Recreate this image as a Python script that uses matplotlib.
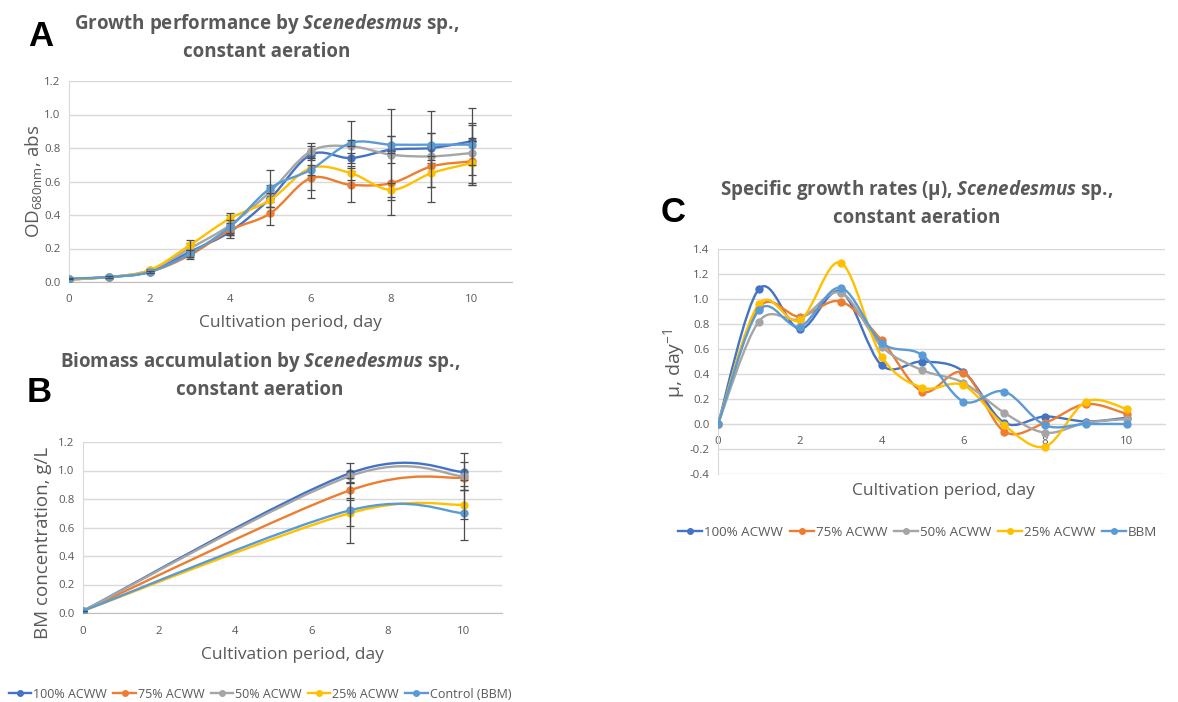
import numpy as np
import matplotlib
matplotlib.use("Agg")
import matplotlib.pyplot as plt
from matplotlib.path import Path
from matplotlib.patches import PathPatch
from matplotlib.lines import Line2D

plt.rcParams['font.family'] = ['Open Sans', 'DejaVu Sans']
plt.rcParams['mathtext.fontset'] = 'custom'
plt.rcParams['mathtext.rm'] = 'Open Sans'
plt.rcParams['mathtext.it'] = 'Open Sans:italic:bold'
plt.rcParams['mathtext.bf'] = 'Open Sans:bold'

W, H = 1178, 702

colors = ['#4472C4', '#ED7D31', '#A5A5A5', '#FFC000', '#5B9BD5']
names_ab = ['100% ACWW', '75% ACWW', '50% ACWW', '25% ACWW', 'Control (BBM)']
names_c = ['100% ACWW', '75% ACWW', '50% ACWW', '25% ACWW', 'BBM']

# A: optical density, days 0-10
days_a = [0, 1, 2, 3, 4, 5, 6, 7, 8, 9, 10]
od_100 = [0.015, 0.03, 0.06, 0.18, 0.30, 0.50, 0.76, 0.74, 0.79, 0.80, 0.84]
od_75 = [0.015, 0.03, 0.06, 0.16, 0.31, 0.41, 0.62, 0.58, 0.59, 0.69, 0.72]
od_50 = [0.02, 0.03, 0.07, 0.20, 0.34, 0.54, 0.78, 0.81, 0.76, 0.75, 0.77]
od_25 = [0.015, 0.03, 0.07, 0.22, 0.38, 0.49, 0.68, 0.65, 0.55, 0.65, 0.71]
od_bbm = [0.02, 0.03, 0.06, 0.17, 0.33, 0.56, 0.67, 0.83, 0.82, 0.82, 0.82]
od_err_100 = [0.005, 0.005, 0.005, 0.02, 0.04, 0.05, 0.02, 0.03, 0.08, 0.09, 0.20]
od_err_75 = [0.005, 0.005, 0.005, 0.02, 0.03, 0.07, 0.12, 0.10, 0.19, 0.12, 0.14]
od_err_50 = [0.005, 0.005, 0.005, 0.03, 0.06, 0.04, 0.05, 0.15, 0.27, 0.27, 0.18]
od_err_25 = [0.005, 0.005, 0.005, 0.03, 0.03, 0.04, 0.13, 0.04, 0.04, 0.08, 0.13]
od_err_bbm = [0.005, 0.005, 0.005, 0.02, 0.04, 0.11, 0.03, 0.02, 0.05, 0.07, 0.12]

# B: biomass, days 0, 7, 10
days_b = [0, 7, 10]
bm_100 = [0.015, 0.98, 0.99]
bm_75 = [0.015, 0.86, 0.95]
bm_50 = [0.015, 0.96, 0.96]
bm_25 = [0.015, 0.70, 0.76]
bm_bbm = [0.015, 0.72, 0.70]
bm_err_100 = [0.0, 0.07, 0.13]
bm_err_75 = [0.0, 0.05, 0.02]
bm_err_50 = [0.0, 0.04, 0.10]
bm_err_25 = [0.0, 0.09, 0.10]
bm_err_bbm = [0.0, 0.23, 0.19]

# C: specific growth rate, days 0-10
days_c = [0, 1, 2, 3, 4, 5, 6, 7, 8, 9, 10]
mu_100 = [0.0, 1.08, 0.76, 1.06, 0.47, 0.50, 0.42, 0.01, 0.06, 0.02, 0.05]
mu_75 = [0.0, 0.93, 0.86, 0.98, 0.67, 0.26, 0.41, -0.06, 0.01, 0.16, 0.08]
mu_50 = [0.0, 0.82, 0.84, 1.05, 0.62, 0.43, 0.33, 0.09, -0.07, 0.01, 0.04]
mu_25 = [0.0, 0.96, 0.83, 1.29, 0.54, 0.29, 0.31, -0.01, -0.18, 0.18, 0.12]
mu_bbm = [0.0, 0.91, 0.78, 1.09, 0.65, 0.55, 0.18, 0.26, -0.01, 0.0, 0.0]


def smooth_path(x, y):
    # cubic Bezier through the points, like a spreadsheet "smoothed line"
    pts = np.column_stack([x, y]).astype(float)
    n = len(pts)
    verts = [pts[0]]
    codes = [Path.MOVETO]
    for i in range(n - 1):
        p0 = pts[max(i - 1, 0)]
        p1 = pts[i]
        p2 = pts[i + 1]
        p3 = pts[min(i + 2, n - 1)]
        verts += [p1 + (p2 - p0) / 6, p2 - (p3 - p1) / 6, p2]
        codes += [Path.CURVE4] * 3
    return Path(verts, codes)


def style_axes(ax, xlim, ylim, yticks):
    ax.set_xlim(*xlim)
    ax.set_ylim(*ylim)
    ax.set_xticks([0, 2, 4, 6, 8, 10])
    ax.set_yticks(yticks)
    ax.yaxis.set_major_formatter(matplotlib.ticker.FormatStrFormatter('%.1f'))
    ax.grid(axis='y', color='#D9D9D9', linewidth=1)
    ax.set_axisbelow(True)
    for s in ['top', 'right']:
        ax.spines[s].set_visible(False)
    ax.spines['left'].set_color('#D9D9D9')
    ax.spines['bottom'].set_color('#BFBFBF')
    ax.tick_params(length=0, labelsize=8.2, labelcolor='#595959', pad=6)
    ax.tick_params(axis='x', pad=9)


def draw_series(ax, x, ys, errs=None):
    for i, y in enumerate(ys):
        ax.add_patch(PathPatch(smooth_path(x, y), fill=False, edgecolor=colors[i],
                               linewidth=1.7, zorder=3 + i))
        ax.plot(x, y, 'o', color=colors[i], markersize=5, zorder=3 + i)
        if errs is not None:
            ax.errorbar(x, y, yerr=errs[i], fmt='none', ecolor='#4D4D4D',
                        elinewidth=0.9, capsize=3, capthick=0.9, zorder=3 + i)


def ftext(x, y, s, **kw):
    fig.text(x / W, 1 - y / H, s, **kw)


fig = plt.figure(figsize=(W / 100, H / 100), dpi=100)

title_kw = dict(ha='center', va='center', fontsize=13.5, fontweight='bold',
                color='#595959', linespacing=1.35)
label_kw = dict(ha='center', va='center', fontsize=12.5, color='#595959')
letter_kw = dict(fontsize=25, fontweight='bold', family='Liberation Sans',
                 ha='center', va='center')

# panel A
ax_a = fig.add_axes([69 / W, 1 - 282 / H, 443 / W, 201 / H])
style_axes(ax_a, (0, 11), (0, 1.2), np.arange(0, 1.21, 0.2))
draw_series(ax_a, days_a, [od_100, od_75, od_50, od_25, od_bbm],
            [od_err_100, od_err_75, od_err_50, od_err_25, od_err_bbm])
ftext(41, 37, 'A', **letter_kw)
ftext(267, 37, 'Growth performance by $\\mathit{Scenedesmus}$ sp.,\nconstant aeration', **title_kw)
ftext(34, 181, 'OD$_{\\mathregular{680nm}}$, abs', rotation=90, fontsize=13.5,
      ha='center', va='center', color='#595959')
ftext(290, 323, 'Cultivation period, day', **label_kw)

# panel B
ax_b = fig.add_axes([83 / W, 1 - 613 / H, 419 / W, 171 / H])
style_axes(ax_b, (0, 11), (0, 1.2), np.arange(0, 1.21, 0.2))
draw_series(ax_b, days_b, [bm_100, bm_75, bm_50, bm_25, bm_bbm],
            [bm_err_100, bm_err_75, bm_err_50, bm_err_25, bm_err_bbm])
ftext(39, 392, 'B', **letter_kw)
ftext(260, 375, 'Biomass accumulation by $\\mathit{Scenedesmus}$ sp.,\nconstant aeration', **title_kw)
ftext(43, 543, 'BM concentration, g/L', rotation=90, fontsize=13.5,
      ha='center', va='center', color='#595959')
ftext(292, 655, 'Cultivation period, day', **label_kw)

# panel C
ax_c = fig.add_axes([718 / W, 1 - 474 / H, 447 / W, 225 / H])
style_axes(ax_c, (0, 10.93), (-0.4, 1.4), np.arange(-0.4, 1.41, 0.2))
ax_c.spines['bottom'].set_position(('data', 0))
ax_c.spines['bottom'].set_color('#D9D9D9')
draw_series(ax_c, days_c, [mu_100, mu_75, mu_50, mu_25, mu_bbm])
ftext(673, 213, 'C', **letter_kw)
ftext(917, 203, 'Specific growth rates (μ), $\\mathit{Scenedesmus}$ sp.,\nconstant aeration', **title_kw)
ftext(675, 363, 'μ, day$^{\\mathregular{-1}}$', rotation=90, fontsize=14,
      ha='center', va='center', color='#595959')
ftext(943, 491, 'Cultivation period, day', **label_kw)


def legend_handles():
    return [Line2D([0], [0], color=c, linewidth=1.7, marker='o', markersize=4)
            for c in colors]


leg_kw = dict(loc='center left', ncol=5, frameon=False,
              handlelength=1.8, handletextpad=0.15, columnspacing=0.5,
              borderpad=0, borderaxespad=0, labelcolor='#595959')
fig.legend(legend_handles(), names_ab, bbox_to_anchor=(9 / W, 1 - 694 / H),
           fontsize=9, **leg_kw)
fig.legend(legend_handles(), names_c, bbox_to_anchor=(678 / W, 1 - 532 / H),
           fontsize=9.6, **leg_kw)

fig.savefig('out.png', dpi=100)
